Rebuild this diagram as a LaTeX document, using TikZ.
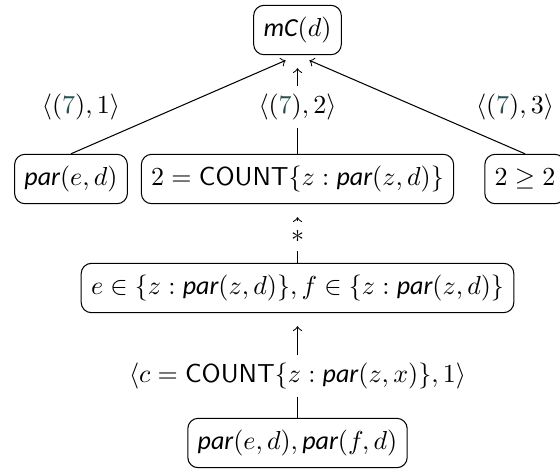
\documentclass[tikz,border=0pt]{standalone}
\usepackage{fontspec}
\newfontfamily\carl{Carlito}
\newcommand{\Rpar}{\mbox{\carl\itshape par}}
\newcommand{\RmC}{\mbox{\carl\itshape mC}}
\newcommand{\Rcount}{\mbox{\sffamily COUNT}}
\definecolor{seven}{RGB}{40,82,82}
\newcommand{\Rseven}{{\color{seven}7}}
\begin{document}
\begin{tikzpicture}[x=0.3846pt,y=-0.3846pt,
  box/.style={draw, rounded corners=4pt, inner xsep=3.8pt, inner ysep=4.5pt, text height=7.5pt, text depth=2.5pt},
  lab/.style={inner sep=3pt, text height=7.5pt, text depth=2.5pt},
  arr/.style={->, shorten >=5pt}]
\useasboundingbox (0,0) rectangle (560,470);
\node[box] (mc) at (297.5,30) {$\RmC(d)$};
\node[box] (pe) at (71,179) {$\Rpar(e,d)$};
\node[box] (cnt) at (297.5,179) {$2 = \Rcount\{z : \Rpar(z,d)\}$};
\node[box] (ge) at (525,179) {$2 \geq 2$};
\node[lab] (l1) at (81,107) {$\langle(\Rseven),1\rangle$};
\node[lab] (l2) at (297.5,107) {$\langle(\Rseven),2\rangle$};
\node[lab] (l3) at (515,107) {$\langle(\Rseven),3\rangle$};
\node[box] (ef) at (297.5,288) {$e \in \{z : \Rpar(z,d)\}, f \in \{z : \Rpar(z,d)\}$};
\node[inner sep=0pt, minimum height=11.5pt] (st) at (297.5,236) {$*$};
\node[lab] (l4) at (297.5,376) {$\langle c = \Rcount\{z : \Rpar(z,x)\}, 1\rangle$};
\node[box] (bot) at (297.5,443) {$\Rpar(e,d), \Rpar(f,d)$};
\draw[arr] (pe.north) -- (mc.south);
\draw (cnt.north) -- (l2.south);
\draw[arr] (l2.north) -- (mc.south);
\draw[arr] (ge.north) -- (mc.south);
\draw (ef.north) -- (st.south);
\draw[arr] (st.north) -- (cnt.south);
\draw (bot.north) -- (l4.south);
\draw[arr] (l4.north) -- (ef.south);
\end{tikzpicture}
\end{document}
